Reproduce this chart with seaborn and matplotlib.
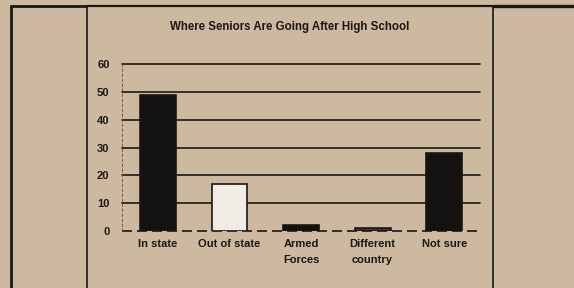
import matplotlib
matplotlib.use('Agg')
import matplotlib.pyplot as plt
from matplotlib.lines import Line2D
import seaborn as sns
import pandas as pd

destinations = ['In state', 'Out of state', 'Armed\nForces', 'Different\ncountry', 'Not sure']
percent = [49, 17, 2, 1, 28]
bar_colors = ['#141210', '#f4eee2', '#141210', '#3a3530', '#141210']
y_ticks = [0, 10, 20, 30, 40, 50, 60]

paper = '#cdb9a0'
ink = '#1a1714'

sns.set_style('white')
plt.rcParams['font.family'] = ['Liberation Sans', 'DejaVu Sans']

df = pd.DataFrame({'dest': destinations, 'pct': percent})

fig = plt.figure(figsize=(5.74, 2.88), dpi=100, facecolor=paper)
ax = fig.add_axes([122 / 574, 57 / 288, 358 / 574, 167 / 288])
ax.set_facecolor('none')

# horizontal rules behind bars
for t in y_ticks[1:]:
    ax.axhline(t, color=ink, lw=1.2, zorder=0, clip_on=False)
ax.axhline(0, color=ink, lw=1.2, ls=(0, (6, 3)), zorder=0, clip_on=False)

sns.barplot(data=df, x='dest', y='pct', hue='dest', palette=bar_colors,
            legend=False, width=0.5, edgecolor=ink, linewidth=1.2, ax=ax, zorder=2)

ax.set_ylim(0, 60)
ax.set_xlim(-0.5, 4.5)
ax.set_yticks(y_ticks)
ax.set_yticklabels([str(t) for t in y_ticks], fontsize=8, fontweight='bold', color=ink)
ax.set_xticks(range(len(destinations)))
ax.set_xticklabels(destinations, fontsize=8, fontweight='bold', color=ink, linespacing=1.65)
ax.tick_params(axis='both', length=0)
ax.tick_params(axis='y', pad=9)
ax.tick_params(axis='x', pad=6)
ax.set_xlabel('')
ax.set_ylabel('')
for side in ['top', 'right', 'bottom']:
    ax.spines[side].set_visible(False)
ax.spines['left'].set_linestyle((0, (3, 3)))
ax.spines['left'].set_linewidth(0.6)
ax.spines['left'].set_color('#5a5048')

fig.text(290 / 574, 1 - 27 / 288, 'Where Seniors Are Going After High School',
         ha='center', va='center', fontsize=8.3, fontweight='bold', color=ink)

# newspaper frame lines
def fx(px):
    return px / 574

def fy(py):
    return 1 - py / 288

frame = [
    ((11, 11), (6, 288), 2.0),
    ((11, 86), (6, 6), 2.0),
    ((87, 87), (6, 288), 1.2),
    ((87, 493), (6, 6), 1.6),
    ((493, 493), (6, 288), 1.2),
    ((494, 574), (6, 6), 2.4),
]
for xs, ys, lw in frame:
    fig.add_artist(Line2D([fx(x) for x in xs], [fy(y) for y in ys], color=ink, lw=lw))

fig.savefig('out.png', dpi=100, facecolor=paper)
